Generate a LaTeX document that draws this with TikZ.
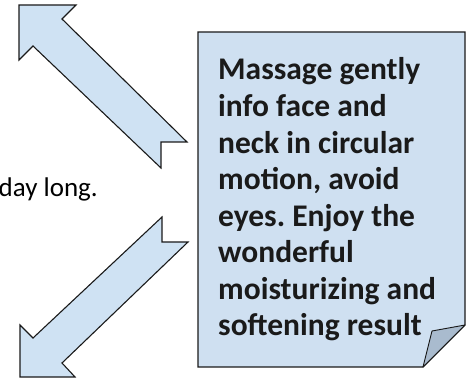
\documentclass[tikz,border=0pt]{standalone}
\usepackage{fontspec}
\setmainfont{Carlito}
\frenchspacing
\definecolor{arrowfill}{HTML}{CFE2F3}
\definecolor{boxfill}{HTML}{CFE0F1}
\definecolor{flapfill}{HTML}{A9BBCE}
\definecolor{edge}{HTML}{1A1A1A}
\tikzset{
  bigarrow/.style={draw=edge, fill=arrowfill, line width=1.1pt, line join=miter},
  notebox/.style={draw=edge, fill=boxfill, line width=1.2pt, line join=miter},
  flap/.style={draw=edge, fill=flapfill, line width=0.9pt, line join=round},
  notetext/.style={anchor=base west, inner sep=0pt, align=left, text=edge,
    font=\fontsize{31.5}{36.6}\selectfont\bfseries},
  bodytext/.style={anchor=base east, inner sep=0pt, text=black,
    font=\fontsize{27}{32}\selectfont}
}
\begin{document}
\begin{tikzpicture}[x=1pt, y=-1pt]
\useasboundingbox (0,0) rectangle (466,379);
% upper arrow (points up-left)
\draw[bigarrow] (19,5) -- (76,5) -- (62,19) -- (187,142) -- (161,142) -- (161,168)
  -- (33,46) -- (19,60) -- cycle;
% lower arrow (points down-left)
\draw[bigarrow] (20,377) -- (20,325) -- (33,338) -- (162,217) -- (162,242) -- (188,242)
  -- (62,363) -- (75,377) -- cycle;
% note box with folded corner
\draw[notebox] (198,32) -- (465,32) -- (465,325) -- (423,367) -- (198,367) -- cycle;
\draw[flap] (423,367) -- (432,331) -- (465,325) -- cycle;
\node[notetext] (note) at (218,336) {Massage gently\\info face and\\neck in circular\\motion, avoid\\eyes. Enjoy the\\wonderful\\moisturizing and\\softening result};
\node[bodytext] (daylong) at (98,197) {day long.};
\end{tikzpicture}
\end{document}
